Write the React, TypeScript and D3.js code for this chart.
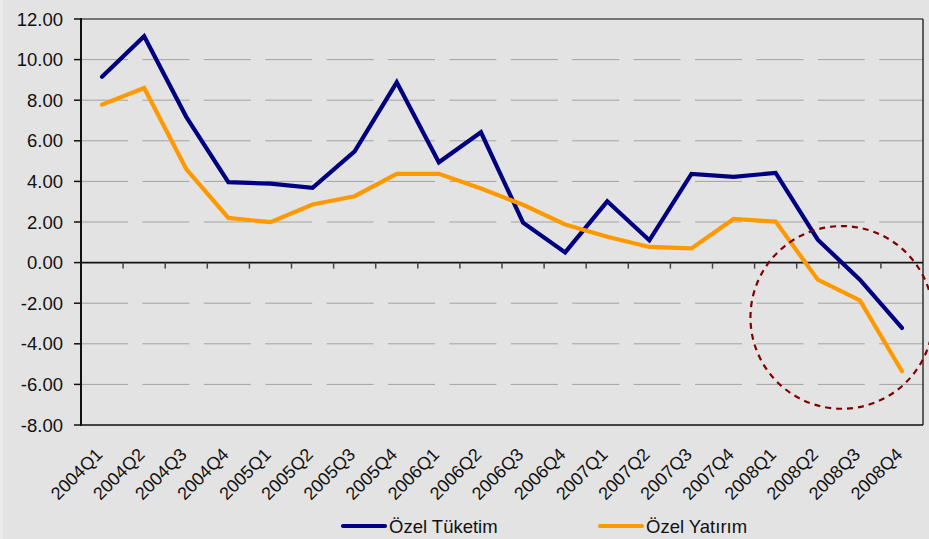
import React from "react";
import * as d3 from "d3";

const categories = [
  "2004Q1", "2004Q2", "2004Q3", "2004Q4",
  "2005Q1", "2005Q2", "2005Q3", "2005Q4",
  "2006Q1", "2006Q2", "2006Q3", "2006Q4",
  "2007Q1", "2007Q2", "2007Q3", "2007Q4",
  "2008Q1", "2008Q2", "2008Q3", "2008Q4",
];

const ozelTuketim = [
  9.15, 11.15, 7.18, 3.96,
  3.89, 3.68, 5.48, 8.88,
  4.94, 6.42, 1.97, 0.5,
  3.02, 1.1, 4.37, 4.22,
  4.42, 1.13, -0.84, -3.22,
];

const ozelYatirim = [
  7.78, 8.6, 4.61, 2.2,
  1.99, 2.86, 3.27, 4.37,
  4.37, 3.65, 2.85, 1.88,
  1.27, 0.77, 0.7, 2.15,
  2.02, -0.84, -1.86, -5.35,
];

const yTicks = [12, 10, 8, 6, 4, 2, 0, -2, -4, -6, -8];

const seriesNames = ["Özel Tüketim", "Özel Yatırım"];
const seriesColors = ["#000080", "#FF9900"];

// annotation ellipse (data-space centre and radius)
const highlightCenter = { between: ["2008Q2", "2008Q3"], value: -2.7 };

const W = 929;
const H = 539;
const margin = { left: 81, top: 19, right: 6, bottom: 114 };
const FONT = "'Liberation Sans', Arial, Helvetica, sans-serif";

export default function App() {
  const x = d3
    .scaleBand<string>()
    .domain(categories)
    .range([margin.left, W - margin.right])
    .paddingInner(0)
    .paddingOuter(0);
  const y = d3
    .scaleLinear()
    .domain([-8, 12])
    .range([H - margin.bottom, margin.top]);

  const cx = (c: string) => (x(c) as number) + x.bandwidth() / 2;
  const line = d3
    .line<number>()
    .x((_, i) => cx(categories[i]))
    .y((d) => y(d));

  const series = [ozelTuketim, ozelYatirim];
  const x0 = margin.left;
  const x1 = W - margin.right;
  const yTop = y(12);
  const yBot = y(-8);
  const y0 = y(0);

  const circX =
    (cx(highlightCenter.between[0]) + cx(highlightCenter.between[1])) / 2 + 3;
  const circY = y(highlightCenter.value);
  const circR = Math.abs(y(0) - y(4.5));

  return (
    <svg
      width={W}
      height={H}
      style={{ position: "absolute", left: 0, top: 0, display: "block" }}
      fontFamily={FONT}
    >
      <rect x={0} y={0} width={W} height={H} fill="#e3e3e3" />
      <rect x={0} y={0} width={3} height={H} fill="#eaeaea" />

      {/* gridlines */}
      {yTicks
        .filter((t) => t !== 12 && t !== 0 && t !== -8)
        .map((t) => (
          <line
            key={"g" + t}
            x1={x0}
            x2={x1}
            y1={y(t)}
            y2={y(t)}
            stroke="#a3a3a3"
            strokeWidth={1}
            strokeDasharray="47 14.4"
          />
        ))}

      {/* plot border */}
      <line x1={x0} x2={x1} y1={yTop} y2={yTop} stroke="#505050" strokeWidth={1.5} />
      <line x1={x1} x2={x1} y1={yTop} y2={yBot} stroke="#303030" strokeWidth={1.5} />
      <line x1={x0} x2={x1} y1={yBot} y2={yBot} stroke="#111" strokeWidth={1.5} />

      {/* zero axis with category ticks */}
      <line x1={x0} x2={x1} y1={y0} y2={y0} stroke="#111" strokeWidth={1.8} />
      {categories.slice(1).map((c) => (
        <line
          key={"t" + c}
          x1={x(c) as number}
          x2={x(c) as number}
          y1={y0}
          y2={y0 + 6}
          stroke="#444"
          strokeWidth={1.5}
        />
      ))}

      {/* y axis */}
      <line x1={x0} x2={x0} y1={yTop - 1} y2={yBot + 1} stroke="#111" strokeWidth={2} />
      {yTicks.map((t) => (
        <g key={"y" + t}>
          <line x1={x0 - 7} x2={x0} y1={y(t)} y2={y(t)} stroke="#111" strokeWidth={1.5} />
          <text
            x={63}
            y={y(t)}
            dy="0.36em"
            textAnchor="end"
            fontSize={18.5}
            fill="#111"
          >
            {t.toFixed(2)}
          </text>
        </g>
      ))}

      {/* x labels */}
      {categories.map((c) => (
        <text
          key={"x" + c}
          transform={`translate(${cx(c) - 3},${yBot + 26}) rotate(-45)`}
          textAnchor="end"
          dy="0.36em"
          fontSize={18}
          fill="#111"
        >
          {c}
        </text>
      ))}

      {/* lines */}
      {series.map((s, i) => (
        <path
          key={"s" + i}
          d={line(s) as string}
          fill="none"
          stroke={seriesColors[i]}
          strokeWidth={4.2}
          strokeLinejoin="miter"
          strokeLinecap="round"
        />
      ))}

      {/* annotation circle */}
      <circle
        cx={circX}
        cy={circY}
        r={circR}
        fill="none"
        stroke="#800000"
        strokeWidth={2.2}
        strokeDasharray="6 5"
      />

      {/* legend */}
      {seriesNames.map((n, i) => {
        const lx = i === 0 ? 343 : 600;
        return (
          <g key={"l" + i}>
            <line
              x1={lx}
              x2={lx + 42}
              y1={526}
              y2={526}
              stroke={seriesColors[i]}
              strokeWidth={4.2}
              strokeLinecap="round"
            />
            <text x={lx + 46} y={526} dy="0.36em" fontSize={18.5} fill="#111">
              {n}
            </text>
          </g>
        );
      })}
    </svg>
  );
}
